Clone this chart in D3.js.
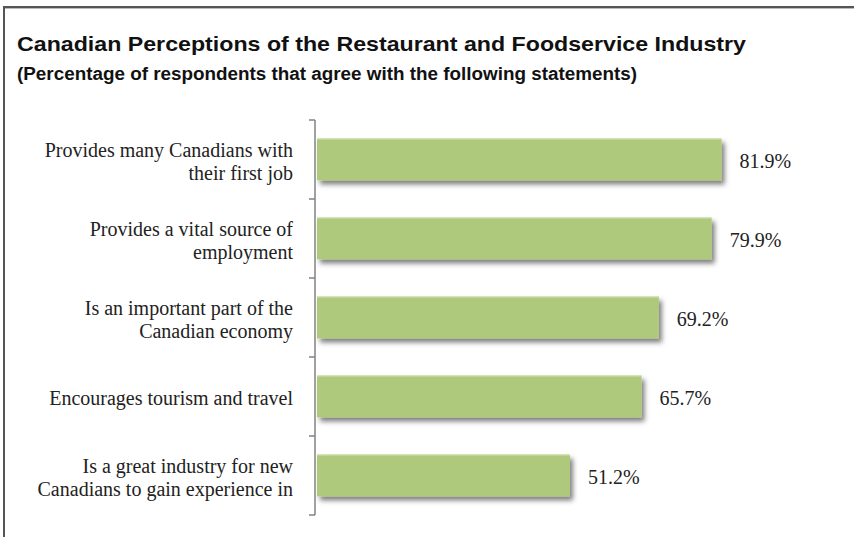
<!DOCTYPE html>
<html>
<head>
<meta charset="utf-8">
<script src="https://cdn.jsdelivr.net/npm/d3@7"></script>
<style>
  html, body { margin: 0; padding: 0; background: #fff; }
  svg { display: block; }
</style>
</head>
<body>
<svg id="chart" width="854" height="537"></svg>
<script>
// ---- Data ----
const categories = [
  ["Provides many Canadians with", "their first job"],
  ["Provides a vital source of", "employment"],
  ["Is an important part of the", "Canadian economy"],
  ["Encourages tourism and travel"],
  ["Is a great industry for new", "Canadians to gain experience in"]
];
const values = [81.9, 79.9, 69.2, 65.7, 51.2];
const valueLabels = ["81.9%", "79.9%", "69.2%", "65.7%", "51.2%"];
const titleText = "Canadian Perceptions of the Restaurant and Foodservice Industry";
const subtitleText = "(Percentage of respondents that agree with the following statements)";

// ---- Layout ----
const svg = d3.select("#chart");
const axisX = 315;
const plotTop = 120, plotBottom = 515;

// frame
svg.append("line").attr("x1", 4).attr("x2", 4).attr("y1", 6).attr("y2", 537)
  .attr("stroke", "#555").attr("stroke-width", 2);
svg.append("line").attr("x1", 3).attr("x2", 854).attr("y1", 7).attr("y2", 7)
  .attr("stroke", "#555").attr("stroke-width", 2);
svg.append("line").attr("x1", 5).attr("x2", 854).attr("y1", 8.5).attr("y2", 8.5)
  .attr("stroke", "#bbb").attr("stroke-width", 1);

// titles
svg.append("text").attr("x", 17).attr("y", 51)
  .attr("font-family", "'Liberation Sans', Arial, sans-serif")
  .attr("font-weight", "bold").attr("font-size", 21).attr("fill", "#111")
  .attr("textLength", 729).attr("lengthAdjust", "spacingAndGlyphs")
  .text(titleText);
svg.append("text").attr("x", 17).attr("y", 80)
  .attr("font-family", "'Liberation Sans', Arial, sans-serif")
  .attr("font-weight", "bold").attr("font-size", 18).attr("fill", "#111")
  .attr("textLength", 620).attr("lengthAdjust", "spacingAndGlyphs")
  .text(subtitleText);

// scales
const idx = d3.range(values.length);
const y = d3.scaleBand().domain(idx).range([plotTop, plotBottom]).paddingInner(0.47).paddingOuter(0.235);
const yTicks = d3.scaleBand().domain(idx).range([plotTop, plotBottom]);
const x = d3.scaleLinear().domain([0, 100]).range([axisX + 2, 811]);

// shadow filter
const defs = svg.append("defs");
const f = defs.append("filter").attr("id", "shadow").attr("x", "-10%").attr("y", "-30%").attr("width", "130%").attr("height", "190%");
f.append("feDropShadow").attr("dx", 3).attr("dy", 4).attr("stdDeviation", 2.4)
  .attr("flood-color", "#000").attr("flood-opacity", 0.5);

// bars
svg.append("g").selectAll("rect").data(values).join("rect")
  .attr("x", x(0))
  .attr("y", (d, i) => y(i))
  .attr("width", d => x(d) - x(0))
  .attr("height", y.bandwidth())
  .attr("fill", "#afc97b")
  .attr("filter", "url(#shadow)");
svg.append("g").selectAll("line").data(values).join("line")
  .attr("x1", x(0)).attr("x2", d => x(d))
  .attr("y1", (d, i) => y(i) + 0.5).attr("y2", (d, i) => y(i) + 0.5)
  .attr("stroke", "#cfe0ad").attr("stroke-width", 1);

// axis line and ticks
svg.append("line").attr("x1", axisX).attr("x2", axisX).attr("y1", plotTop).attr("y2", plotBottom)
  .attr("stroke", "#8a8a8a").attr("stroke-width", 1.6);
const tickYs = idx.map(i => yTicks(i)).concat([plotBottom]);
svg.append("g").selectAll("line").data(tickYs).join("line")
  .attr("x1", axisX - 6).attr("x2", axisX).attr("y1", d => d).attr("y2", d => d)
  .attr("stroke", "#8a8a8a").attr("stroke-width", 1.6);

// category labels
const lab = svg.append("g").attr("font-family", "'Liberation Serif', 'Times New Roman', serif")
  .attr("font-size", 20).attr("fill", "#222").attr("text-anchor", "end");
categories.forEach((lines, i) => {
  const cy = y(i) + y.bandwidth() / 2;
  const n = lines.length;
  lines.forEach((t, j) => {
    lab.append("text").attr("x", 293)
      .attr("y", cy + 8.5 + (j - (n - 1) / 2) * 23)
      .text(t);
  });
});

// value labels
svg.append("g").attr("font-family", "'Liberation Serif', 'Times New Roman', serif")
  .attr("font-size", 20).attr("fill", "#222")
  .selectAll("text").data(values).join("text")
  .attr("x", d => x(d) + 18)
  .attr("y", (d, i) => y(i) + y.bandwidth() / 2 + 8.5)
  .text((d, i) => valueLabels[i]);
</script>
</body>
</html>
